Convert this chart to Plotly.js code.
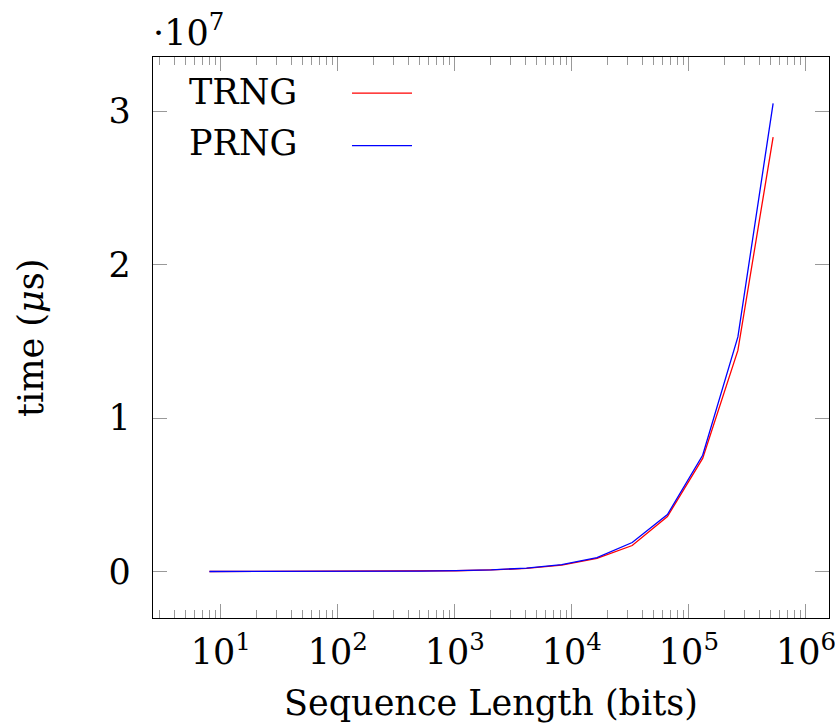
<!DOCTYPE html>
<html>
<head>
<meta charset="utf-8">
<script src="https://cdn.plot.ly/plotly-3.0.1.min.js"></script>
<style>html,body{margin:0;padding:0;background:#fff;}#chart{width:835px;height:727px;}</style>
</head>
<body>
<div id="chart"></div>
<script>
// Sequence lengths (bits)
const seqLength = [8, 16, 32, 64, 128, 256, 512, 1024, 2048, 4096, 8192, 16384, 32768, 65536, 131072, 262144, 524288];
// time (µs)
const trngTime = [400, 800, 1600, 3200, 6400, 12500, 25000, 50000, 100000, 200000, 420000, 850000, 1690000, 3580000, 7370000, 14400000, 28300000];
const prngTime = [450, 900, 1800, 3600, 7000, 14000, 28000, 55000, 110000, 220000, 450000, 910000, 1890000, 3710000, 7570000, 15280000, 30500000];
const seriesNames = ["TRNG", "PRNG"];
const xTickVals = [10, 100, 1000, 10000, 100000, 1000000];
const xTickText = ["10<sup>1</sup>", "10<sup>2</sup>", "10<sup>3</sup>", "10<sup>4</sup>", "10<sup>5</sup>", "10<sup>6</sup>"];
const yTickVals = [0, 1e7, 2e7, 3e7];
const yTickText = ["0", "1", "2", "3"];
const xTitle = "Sequence Length (bits)";
const yTitle = "time (<i>μ</i>s)";

const FONT = "DejaVu Serif";
const FS = 35;

const traces = [
  {x: seqLength, y: trngTime, type: "scatter", mode: "lines", name: "", line: {color: "#ff0000", width: 1.3}},
  {x: seqLength, y: prngTime, type: "scatter", mode: "lines", name: "", line: {color: "#0000ff", width: 1.3}}
];

// pixel helpers for placing layout texts (plot area: x 153..829, y 57..618)
const px = v => (v - 153) / 676;
const py = v => (618 - v) / 561;

const layout = {
  width: 835, height: 727,
  margin: {l: 153, r: 6, t: 57, b: 109},
  paper_bgcolor: "#fff", plot_bgcolor: "#fff",
  font: {family: FONT, size: FS, color: "#000"},
  showlegend: true,
  legend: {x: px(347), y: py(62), xanchor: "left", yanchor: "top",
           bgcolor: "rgba(0,0,0,0)", font: {size: 38}, itemwidth: 60, tracegroupgap: 0},
  xaxis: {
    type: "log", range: [0.421, 6.197],
    tickvals: xTickVals, ticktext: xTickText,
    ticks: "inside", ticklen: 14, tickwidth: 1, tickcolor: "#999",
    minor: {dtick: "D1", ticks: "inside", ticklen: 8, tickwidth: 1, tickcolor: "#999", showgrid: false},
    showgrid: false, zeroline: false,
    showline: true, linecolor: "#000", linewidth: 1.3, mirror: "ticks",
    tickfont: {family: FONT, size: FS},
    ticklabeloverflow: "allow",
    ticklabelstandoff: 3
  },
  yaxis: {
    range: [-0.303e7, 3.352e7],
    tickvals: yTickVals, ticktext: yTickText,
    ticks: "inside", ticklen: 14, tickwidth: 1, tickcolor: "#999",
    showgrid: false, zeroline: false,
    showline: true, linecolor: "#000", linewidth: 1.3, mirror: "ticks",
    tickfont: {family: FONT, size: FS},
    ticklabeloverflow: "allow",
    ticklabelstandoff: 14
  },
  annotations: [
    {text: xTitle, xref: "paper", yref: "paper", x: 0.5, y: py(703),
     xanchor: "center", yanchor: "middle", showarrow: false, font: {family: FONT, size: FS}},
    {text: yTitle, textangle: -90, xref: "paper", yref: "paper", x: px(31), y: py(338),
     xanchor: "center", yanchor: "middle", showarrow: false, font: {family: FONT, size: FS}},
    {text: "·10<sup>7</sup>", xref: "paper", yref: "paper", x: px(151), y: py(30),
     xanchor: "left", yanchor: "middle", showarrow: false, font: {family: FONT, size: FS}},
    {text: seriesNames[0], xref: "paper", yref: "paper", x: px(187), y: py(92),
     xanchor: "left", yanchor: "middle", showarrow: false, font: {family: FONT, size: FS}},
    {text: seriesNames[1], xref: "paper", yref: "paper", x: px(187), y: py(143),
     xanchor: "left", yanchor: "middle", showarrow: false, font: {family: FONT, size: FS}}
  ]
};

Plotly.newPlot("chart", traces, layout, {displayModeBar: false, staticPlot: true});
</script>
</body>
</html>
